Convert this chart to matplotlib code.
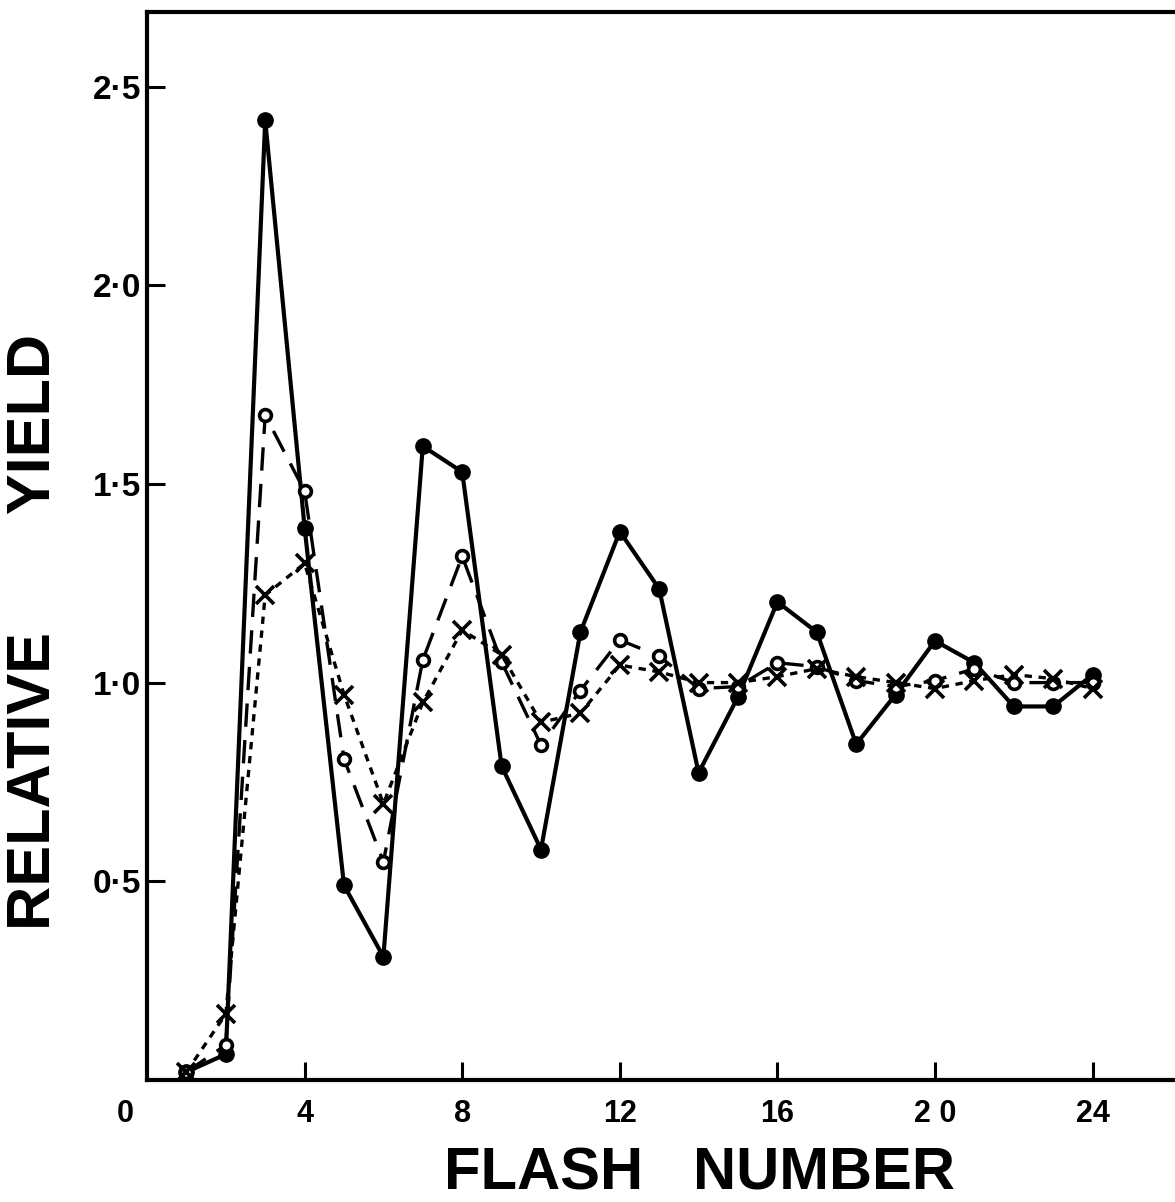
import matplotlib
matplotlib.use("Agg")
import matplotlib.pyplot as plt
import numpy as np

# data
flash = np.arange(1, 25)
yield_filled = [0.02, 0.065, 2.415, 1.39, 0.49, 0.31, 1.595, 1.53, 0.79, 0.58, 1.127, 1.38,
                1.236, 0.773, 0.964, 1.203, 1.127, 0.845, 0.97, 1.105, 1.05, 0.94, 0.94, 1.02]
yield_open = [0.02, 0.088, 1.673, 1.482, 0.808, 0.549, 1.057, 1.318, 1.052, 0.843, 0.98, 1.107,
              1.067, 0.985, 0.99, 1.05, 1.04, 1.005, 0.99, 1.005, 1.035, 1.0, 1.0, 1.0]
yield_cross = [0.02, 0.166, 1.22, 1.30, 0.97, 0.695, 0.95, 1.132, 1.07, 0.90, 0.923, 1.044,
               1.027, 1.0, 1.0, 1.015, 1.035, 1.015, 1.0, 0.985, 1.005, 1.02, 1.01, 0.985]

xticks = [4, 8, 12, 16, 20, 24]
xtick_labels = ["4", "8", "12", "16", "2 0", "24"]
yticks = [0.5, 1.0, 1.5, 2.0, 2.5]
ytick_labels = ["0·5", "1·0", "1·5", "2·0", "2·5"]

plt.rcParams['font.family'] = ['Liberation Sans', 'DejaVu Sans']
plt.rcParams['font.weight'] = 'bold'

W, H = 1175, 1202
fig = plt.figure(figsize=(W / 100, H / 100), dpi=100)
ax = fig.add_axes([147 / W, (H - 1080) / H, (W - 147) / W, (1080 - 12) / H])

ax.plot(flash, yield_filled, color='black', lw=3, marker='o', ms=11,
        mfc='black', mec='black', zorder=3)
ax.plot(flash, yield_open, color='black', lw=2.4, dashes=(7, 4), marker='o', ms=8.5,
        mfc='white', mec='black', mew=2.6, zorder=4)
ax.plot(flash, yield_cross, color='black', lw=2.4, dashes=(2.2, 2), marker='x', ms=13,
        mec='black', mew=2.6, zorder=5)

ax.set_xlim(0, (W - 147) / 39.4)
ax.set_ylim(0, (1080 - 12) / 397.4)

ax.set_xticks(xticks)
ax.set_xticklabels(xtick_labels)
ax.set_yticks(yticks)
ax.set_yticklabels(ytick_labels)
ax.tick_params(axis='both', direction='in', length=13, width=2.2, color='black')
ax.tick_params(axis='x', pad=14, labelsize=22)
ax.tick_params(axis='y', pad=4, labelsize=24)

for s in ['left', 'bottom', 'top']:
    ax.spines[s].set_linewidth(3)
ax.spines['right'].set_visible(False)

ax.text(-0.55, -0.085, "0", fontsize=22, fontweight='bold', ha='center', va='center',
        clip_on=False)

fig.text(35 / W, 1 - 632 / H, "RELATIVE       YIELD", rotation=90, fontsize=44,
         fontweight='bold', ha='center', va='center')
fig.text(699 / W, 1 - 1201 / H, "FLASH   NUMBER", fontsize=43,
         fontweight='bold', ha='center', va='bottom')

fig.savefig("out.png", dpi=100)
